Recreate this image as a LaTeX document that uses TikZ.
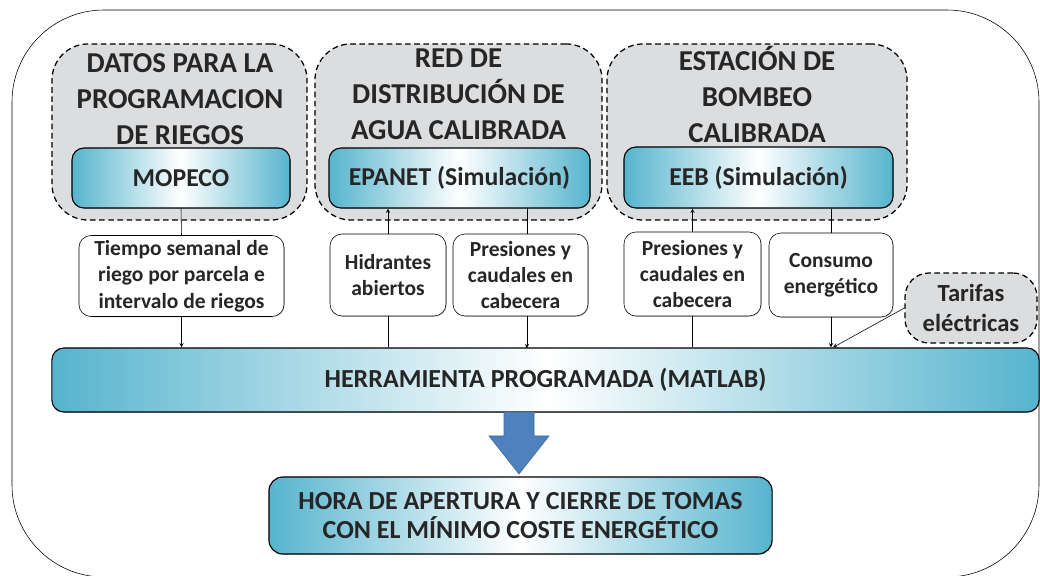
\documentclass[tikz,border=0pt]{standalone}
\usepackage{fontspec}
\setmainfont{Carlito}
\usetikzlibrary{positioning,shadows}
\definecolor{aqua}{RGB}{86,180,206}
\definecolor{txt}{RGB}{38,38,38}
\definecolor{grp}{RGB}{220,221,223}
\definecolor{arrowblue}{RGB}{79,129,189}
\tikzset{
  grupo/.style={draw=black,dash pattern=on 4pt off 2.5pt,line width=0.9pt,fill=grp,rounded corners=0.9cm},
  titulo/.style={text=txt,font=\fontsize{20.5}{25.6}\selectfont\bfseries,align=center},
  simul/.style={draw=black,thick,rounded corners=0.3cm,left color=aqua,right color=aqua,middle color=white,
    text=txt,font=\fontsize{18.3}{21}\selectfont\bfseries,align=center,
    drop shadow={shadow xshift=0.6pt,shadow yshift=-0.6pt,opacity=0.35}},
  dato/.style={draw=black,rounded corners=0.3cm,fill=white,text=txt,
    font=\fontsize{15.3}{18.8}\selectfont\bfseries,align=center,
    drop shadow={shadow xshift=0.6pt,shadow yshift=-0.6pt,opacity=0.35}},
  >=stealth
}
\begin{document}
\begin{tikzpicture}[x=0.025cm,y=-0.025cm]
\useasboundingbox (0,0) rectangle (1040,576);
\draw[rounded corners=2.3cm] (12,10) rectangle (1039,577);

% grupos
\node[grupo,minimum width=6.375cm,minimum height=4.4cm] (datos) at (179.5,132) {};
\node[grupo,minimum width=7.175cm,minimum height=4.4cm] (red) at (458.5,132) {};
\node[grupo,minimum width=7.5cm,minimum height=4.4cm] (estacion) at (757,132) {};
\node[titulo] (t_datos) at (180,99) {DATOS PARA LA\\PROGRAMACION\\DE RIEGOS};
\node[titulo] (t_red) at (458.5,94) {RED DE\\DISTRIBUCIÓN DE\\AGUA CALIBRADA};
\node[titulo] (t_estacion) at (757,94) {ESTACIÓN DE\\BOMBEO\\CALIBRADA};

% modelos
\node[simul,minimum width=5.45cm,minimum height=1.5cm] (mopeco) at (181,178) {MOPECO};
\node[simul,minimum width=6.525cm,minimum height=1.5cm] (epanet) at (459.5,178) {EPANET (Simulación)};
\node[simul,minimum width=6.725cm,minimum height=1.525cm] (eeb) at (758.5,177.5) {EEB (Simulación)};

% datos intercambiados
\node[dato,minimum width=5.125cm,minimum height=2cm] (tiempo) at (181.5,276) {Tiempo semanal de\\riego por parcela e\\intervalo de riegos};
\node[dato,minimum width=2.9cm,minimum height=2.05cm] (hidrantes) at (388,275) {Hidrantes\\abiertos};
\node[dato,minimum width=3.375cm,minimum height=2.05cm] (presiones_a) at (520.5,275) {Presiones y\\caudales en\\cabecera};
\node[dato,minimum width=3.425cm,minimum height=2.1cm] (presiones_b) at (692.5,274) {Presiones y\\caudales en\\cabecera};
\node[dato,minimum width=3.1cm,minimum height=2.1cm] (consumo) at (831,275) {Consumo\\energético};
\node[grupo,rounded corners=0.6cm,minimum width=3.3cm,minimum height=1.75cm,
  text=txt,font=\fontsize{17.5}{21.5}\selectfont\bfseries,align=center] (tarifas) at (971,308) {Tarifas\\eléctricas};

% herramienta y resultado
\node[simul,rounded corners=0.3cm,minimum width=24.675cm,minimum height=1.6cm,
  font=\fontsize{18.5}{21}\selectfont\bfseries] (matlab) at (545.5,380) {HERRAMIENTA PROGRAMADA (MATLAB)};
\node[simul,rounded corners=0.35cm,minimum width=12.575cm,minimum height=1.925cm,
  font=\fontsize{18.5}{20.6}\selectfont\bfseries] (hora) at (520.5,515.5) {HORA DE APERTURA Y CIERRE DE TOMAS\\CON EL MÍNIMO COSTE ENERGÉTICO};
\filldraw[fill=arrowblue,draw=arrowblue!80!black,line width=0.4pt]
  (504,412) -- (534,412) -- (534,436) -- (549,436) -- (519,474) -- (489,436) -- (504,436) -- cycle;

% conexiones
\draw (mopeco.south) -- (tiempo.north);
\draw[->] (tiempo.south) -- (tiempo.south |- matlab.north);
\draw (matlab.north -| hidrantes) -- (hidrantes.south);
\draw[->] (hidrantes.north) -- (hidrantes.north |- epanet.south);
\draw ([xshift=0.16cm]presiones_a.north) -- ++(0,-26);
\draw[->] ([xshift=0.16cm]presiones_a.south) -- ++(0,32);
\draw (matlab.north -| presiones_b) -- (presiones_b.south);
\draw[->] (presiones_b.north) -- (presiones_b.north |- eeb.south);
\draw (consumo.north |- eeb.south) -- (consumo.north);
\draw[->] (consumo.south) -- (consumo.south |- matlab.north);
\draw[->] (tarifas.west) -- ([xshift=0.05cm]consumo.south |- matlab.north);
\end{tikzpicture}
\end{document}
